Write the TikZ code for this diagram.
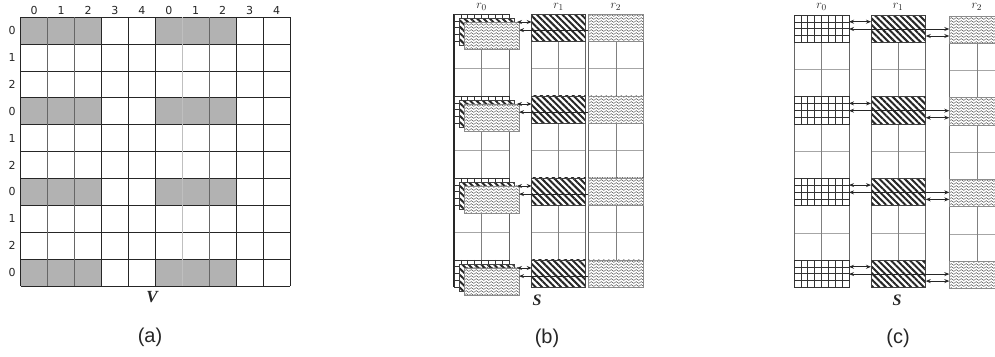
\documentclass[tikz,border=0pt]{standalone}
\usepackage{fontspec}
\setmainfont{Liberation Serif}
\newfontfamily\labelfont{DejaVu Sans}
\newfontfamily\capfont{Liberation Sans}
\usetikzlibrary{patterns,patterns.meta,arrows.meta,calc}

% small wavy lines used for the r2 blocks
\pgfdeclarepatternformonly{wavy}{\pgfqpoint{-0.5pt}{-0.5pt}}{\pgfqpoint{5.5pt}{3.5pt}}{\pgfqpoint{5pt}{3pt}}{%
  \pgfsetlinewidth{0.45pt}%
  \pgfpathmoveto{\pgfqpoint{0pt}{1.5pt}}%
  \pgfpathcurveto{\pgfqpoint{0.8pt}{2.7pt}}{\pgfqpoint{1.7pt}{2.7pt}}{\pgfqpoint{2.5pt}{1.5pt}}%
  \pgfpathcurveto{\pgfqpoint{3.3pt}{0.3pt}}{\pgfqpoint{4.2pt}{0.3pt}}{\pgfqpoint{5pt}{1.5pt}}%
  \pgfusepath{stroke}%
}

\begin{document}
\begin{tikzpicture}[x=1pt,y=-1pt,
  txt/.style={text=black!85,inner sep=0pt},
  numlbl/.style={txt,font=\labelfont\fontsize{11}{13}\selectfont},
  caplbl/.style={txt,font=\capfont\fontsize{20}{24}\selectfont},
  bigvar/.style={txt,font=\bfseries\itshape\fontsize{17}{20}\selectfont},
  rlbl/.style={txt,font=\fontsize{13}{15}\selectfont},
  cellfill/.style={fill=black!30},
  blk/.style={minimum height=27.3pt,inner sep=0pt,outer sep=0pt,anchor=north west},
  gridblk/.style={blk,minimum width=55pt,draw=black!80,line width=0.7pt,fill=white,
    path picture={
      \foreach \i in {1,...,7}
        \draw[black!80,line width=0.6pt]
          ($(path picture bounding box.north west)!\i/8!(path picture bounding box.north east)$) --
          ($(path picture bounding box.south west)!\i/8!(path picture bounding box.south east)$);
      \foreach \j in {1,2,3}
        \draw[black!80,line width=0.6pt]
          ($(path picture bounding box.north west)!\j/4!(path picture bounding box.south west)$) --
          ($(path picture bounding box.north east)!\j/4!(path picture bounding box.south east)$);
    }},
  stripeblk/.style={blk,draw=black!75,line width=0.7pt,preaction={fill=white},
    pattern={Lines[angle=-45,distance=4.5pt,line width=2pt]},pattern color=black!85},
  wavyblk/.style={blk,minimum width=55pt,draw=black!45,line width=0.6pt,preaction={fill=white},
    pattern=wavy,pattern color=black!70},
  colframe/.style={draw=black!60,line width=0.8pt},
  rowline/.style={draw=black!35,line width=0.6pt},
  midline/.style={draw=black!50,line width=0.6pt},
  tip/.tip={Stealth[length=5pt,width=4pt]},
  dbl/.style={{tip}-{tip},line width=0.9pt,draw=black!85},
  larr/.style={{tip}-,line width=0.9pt,draw=black!85},
]
\useasboundingbox (0,0) rectangle (995,356);
\fill[white] (0,0) rectangle (995,356);
\clip (0,0) rectangle (995,356);

% ---------------- (a) the matrix V ----------------
\foreach \r in {0,3,6,9}
  \foreach \c in {0,1,2,5,6,7}
    \fill[cellfill] ({20.7+26.93*\c},{17.3+26.87*\r}) rectangle ({20.7+26.93*(\c+1)},{17.3+26.87*(\r+1)});
\foreach \r in {0,...,10}
  \draw[black!85,line width=0.9pt] (20.7,{17.3+26.87*\r}) -- (290,{17.3+26.87*\r});
\foreach \c in {0,3,4,5,8,9,10}
  \draw[black!85,line width=0.9pt] ({20.7+26.93*\c},17.3) -- ({20.7+26.93*\c},286);
\foreach \c in {1,2,7}
  \draw[black!60,line width=0.9pt] ({20.7+26.93*\c},17.3) -- ({20.7+26.93*\c},286);
\draw[black!25,line width=0.9pt] ({20.7+26.93*6},17.3) -- ({20.7+26.93*6},286);
\foreach \c/\t in {0/0,1/1,2/2,3/3,4/4,5/0,6/1,7/2,8/3,9/4}
  \node[numlbl] (ca\c) at ({20.7+26.93*(\c+0.5)},10) {\t};
\foreach \r/\t in {0/0,1/1,2/2,3/0,4/1,5/2,6/0,7/1,8/2,9/0}
  \node[numlbl] (ra\r) at (12,{17.3+26.87*(\r+0.5)}) {\t};
\node[bigvar] (vlab) at (152,297) {V};
\node[caplbl] (capa) at (150,337) {(a)};

% ---------------- (b) stacked blocks in r0 ----------------
\foreach \xl/\xr in {454/509,531.7/585.7,588.3/643.3}{
  \foreach \k in {1,...,9}
    \draw[rowline] (\xl,{14+27.33*\k}) -- (\xr,{14+27.33*\k});
  \draw[midline] ({(\xl+\xr)/2},14) -- ({(\xl+\xr)/2},287.3);
  \draw[colframe] (\xl,14) rectangle (\xr,287.3);
}
\draw[black!85,line width=1.3pt] (454,14) -- (454,287.3);
\foreach \k/\n in {0/a,3/b,6/c,9/d}{
  \node[gridblk] (bg\n) at (454,{14+27.33*\k}) {};
  \node[stripeblk,minimum width=55pt] (bs\n) at (459,{18.5+27.33*\k}) {};
  \node[wavyblk] (bw\n) at (464,{22+27.33*\k}) {};
  \node[stripeblk,minimum width=54pt] (b1\n) at (531.7,{14+27.33*\k}) {};
  \node[wavyblk] (b2\n) at (588.3,{14+27.33*\k}) {};
  \coordinate (bp\n) at ([xshift=-2pt]bw\n.north east);
  \draw[dbl] (bp\n) -- (bp\n -| b1\n.west);
  \coordinate (bq\n) at ([yshift=5.5pt]bw\n.east);
  \draw[larr] (bq\n) -- (bq\n -| b2\n.west);
}
\node[rlbl] (br0) at (481.5,7) {$r_0$};
\node[rlbl] (br1) at (558.5,7) {$r_1$};
\node[rlbl] (br2) at (615.8,7) {$r_2$};
\node[bigvar,font=\bfseries\itshape\fontsize{16}{19}\selectfont] (slabb) at (537,300) {S};
\node[caplbl] (capb) at (547,338) {(b)};

% ---------------- (c) separate blocks ----------------
\foreach \xl/\xr/\dy in {794/849/0,871/925.7/0,949.3/1004.3/1}{
  \foreach \k in {1,...,9}
    \draw[rowline] (\xl,{15+\dy+27.23*\k}) -- (\xr,{15+\dy+27.23*\k});
  \draw[midline] ({(\xl+\xr)/2},{15+\dy}) -- ({(\xl+\xr)/2},{287.3+\dy});
  \draw[colframe] (\xl,{15+\dy}) rectangle (\xr,{287.3+\dy});
}
\foreach \k/\n in {0/a,3/b,6/c,9/d}{
  \node[gridblk] (c0\n) at (794,{15+27.23*\k}) {};
  \node[stripeblk,minimum width=54.7pt] (c1\n) at (871,{15+27.23*\k}) {};
  \node[wavyblk] (c2\n) at (949.3,{16+27.23*\k}) {};
  \coordinate (cp\n) at ([yshift=-6.7pt]c0\n.north east);
  \draw[dbl] (cp\n) -- (cp\n -| c1\n.west);
  \coordinate (cq\n) at ([yshift=-14pt]c0\n.north east);
  \draw[dbl] (cq\n) -- (cq\n -| c2\n.west);
  \coordinate (cr\n) at ([yshift=-21pt]c1\n.north east);
  \draw[dbl] (cr\n) -- (cr\n -| c2\n.west);
}
\node[rlbl] (cr0) at (821.5,7) {$r_0$};
\node[rlbl] (cr1) at (898,7) {$r_1$};
\node[rlbl] (cr2) at (976.8,7) {$r_2$};
\node[bigvar,font=\bfseries\itshape\fontsize{16}{19}\selectfont] (slabc) at (897,300) {S};
\node[caplbl] (capc) at (898,338) {(c)};
\end{tikzpicture}
\end{document}
